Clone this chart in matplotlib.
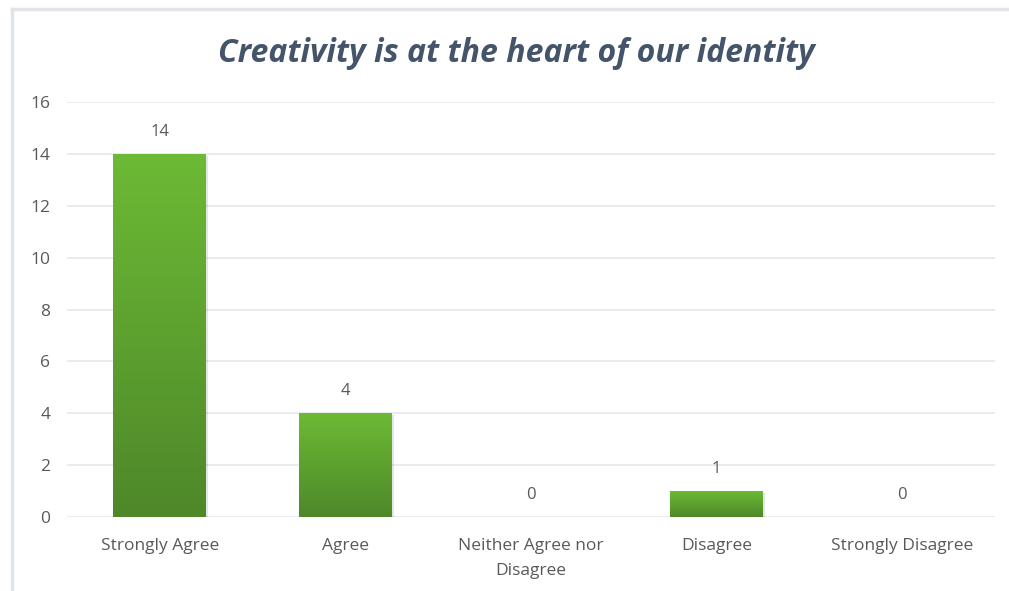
import matplotlib.pyplot as plt
from matplotlib.patches import Rectangle
import numpy as np

categories = ["Strongly Agree", "Agree", "Neither Agree nor\nDisagree", "Disagree", "Strongly Disagree"]
responses = [14, 4, 0, 1, 0]
y_ticks = [0, 2, 4, 6, 8, 10, 12, 14, 16]

plt.rcParams["font.family"] = ["Open Sans", "DejaVu Sans"]

fig = plt.figure(figsize=(10.09, 5.91), dpi=100)
ax = fig.add_axes([67 / 1009, 1 - 517 / 591, 928 / 1009, 415 / 591])

# chart border (top and left edge only)
fig.add_artist(plt.Line2D([11.5 / 1009, 11.5 / 1009], [0, 1 - 8.5 / 591],
                          color="#e1e4e9", lw=2.5, transform=fig.transFigure))
fig.add_artist(plt.Line2D([11.5 / 1009, 1], [1 - 8.5 / 591, 1 - 8.5 / 591],
                          color="#e1e4e9", lw=2.5, transform=fig.transFigure))

x = np.arange(len(categories))
width = 0.5
bars = ax.bar(x, responses, width=width, color="none", zorder=3)

# vertical green gradient inside each bar
grad = np.linspace(0, 1, 256).reshape(-1, 1)
cmap = plt.matplotlib.colors.LinearSegmentedColormap.from_list("g", ["#4e8829", "#6cba35"])
for bar in bars:
    h = bar.get_height()
    if h <= 0:
        continue
    x0 = bar.get_x()
    ax.add_patch(Rectangle((x0 + 0.012, -0.08), width, h, facecolor="#000000",
                           alpha=0.10, lw=0, zorder=2))
    im = ax.imshow(grad, extent=(x0, x0 + width, 0, h), origin="lower",
                   cmap=cmap, aspect="auto", zorder=3)
    im.set_clip_path(bar)

for xi, v in zip(x, responses):
    ax.annotate(str(v), (xi, v), xytext=(0, 10), textcoords="offset points",
                ha="center", va="bottom", fontsize=12, color="#595959")

ax.set_xlim(-0.5, len(categories) - 0.5)
ax.set_ylim(0, 16)
ax.set_yticks(y_ticks)
ax.set_xticks(x)
ax.set_xticklabels(categories, fontsize=12.5, color="#595959", linespacing=1.75)
ax.tick_params(axis="y", length=0, pad=12, labelsize=12.5, labelcolor="#595959")
ax.tick_params(axis="x", length=0, pad=15)
ax.grid(axis="y", color="#e4e7ec", lw=1.2, zorder=0)
ax.set_axisbelow(True)
for s in ax.spines.values():
    s.set_visible(False)

fig.text(516 / 1009, 1 - 54 / 591, "Creativity is at the heart of our identity",
         ha="center", va="center", fontsize=23, fontweight="bold", fontstyle="italic",
         color="#44546a")

fig.savefig("out.png", dpi=100)
